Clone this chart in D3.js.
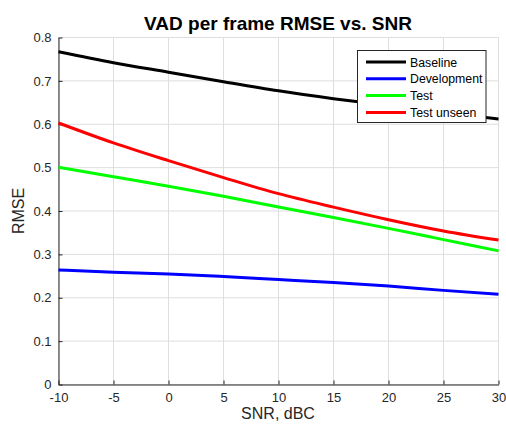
<!DOCTYPE html>
<html><head><meta charset="utf-8">
<script src="https://cdn.jsdelivr.net/npm/d3@7"></script>
<style>body{margin:0;background:#fff}svg{display:block;font-family:"Liberation Sans",Arial,sans-serif}</style>
</head><body><svg id="c" width="506" height="428"></svg>
<script>
const snr = [-10, -5, 0, 5, 10, 15, 20, 25, 30];
const baseline = [0.767, 0.742, 0.720, 0.698, 0.677, 0.659, 0.643, 0.627, 0.612];
const development = [0.264, 0.259, 0.255, 0.249, 0.242, 0.235, 0.227, 0.217, 0.208];
const test = [0.501, 0.479, 0.457, 0.434, 0.409, 0.385, 0.360, 0.334, 0.308];
const testUnseen = [0.603, 0.557, 0.516, 0.477, 0.440, 0.409, 0.380, 0.354, 0.333];
const seriesNames = ["Baseline", "Development", "Test", "Test unseen"];
const seriesColors = ["#000000", "#0000ff", "#00ff00", "#ff0000"];
const xTicks = [-10, -5, 0, 5, 10, 15, 20, 25, 30];
const yTicks = [0, 0.1, 0.2, 0.3, 0.4, 0.5, 0.6, 0.7, 0.8];

const seriesVals = [baseline, development, test, testUnseen];
const svg = d3.select("#c");
const L = 58.5, R = 498.5, T = 37.5, B = 384.5;
const x = d3.scaleLinear().domain([-10, 30]).range([L, R]);
const y = d3.scaleLinear().domain([0, 0.8]).range([B, T]);
const axisCol = "#262626";

// grid
svg.append("g").selectAll("line").data(xTicks).join("line")
  .attr("x1", d => x(d)).attr("x2", d => x(d)).attr("y1", T).attr("y2", B)
  .attr("stroke", "#dedede").attr("stroke-width", 1);
svg.append("g").selectAll("line").data(yTicks).join("line")
  .attr("y1", d => y(d)).attr("y2", d => y(d)).attr("x1", L).attr("x2", R)
  .attr("stroke", "#dedede").attr("stroke-width", 1);

// axes
const xAxis = d3.axisBottom(x).tickValues(xTicks).tickSizeInner(-4).tickSizeOuter(0).tickPadding(8)
  .tickFormat(d => String(d));
const gx = svg.append("g").attr("transform", `translate(0,${B})`).call(xAxis);
const yAxis = d3.axisLeft(y).tickValues(yTicks).tickSizeInner(-4).tickSizeOuter(0).tickPadding(7)
  .tickFormat(d => d === 0 ? "0" : d.toFixed(1));
const gy = svg.append("g").attr("transform", `translate(${L},0)`).call(yAxis);
[gx, gy].forEach(g => {
  g.select(".domain").attr("stroke", axisCol);
  g.selectAll(".tick line").attr("stroke", axisCol);
  g.selectAll(".tick text").attr("fill", axisCol).style("font-size", "13px").style("font-family", "'Liberation Sans', Arial, sans-serif");
});

// lines
const line = d3.line().x((d, i) => x(snr[i])).y(d => y(d)).curve(d3.curveMonotoneX);
svg.append("g").selectAll("path").data(seriesVals).join("path")
  .attr("d", d => line(d)).attr("fill", "none")
  .attr("stroke", (d, i) => seriesColors[i]).attr("stroke-width", 3)
  .attr("stroke-linejoin", "round");

// title and labels
svg.append("text").attr("x", 278).attr("y", 30).attr("text-anchor", "middle")
  .style("font-size", "19px").style("font-weight", "bold").attr("fill", "#000").text("VAD per frame RMSE vs. SNR");
svg.append("text").attr("x", 278).attr("y", 419).attr("text-anchor", "middle")
  .style("font-size", "16px").attr("fill", axisCol).text("SNR, dBC");
svg.append("text").attr("transform", "translate(24,211) rotate(-90)").attr("text-anchor", "middle")
  .style("font-size", "16px").attr("fill", axisCol).text("RMSE");

// legend
const lg = svg.append("g");
lg.append("rect").attr("x", 357.5).attr("y", 50.5).attr("width", 128.5).attr("height", 72)
  .attr("fill", "#fff").attr("stroke", axisCol).attr("stroke-width", 1);
seriesNames.forEach((n, i) => {
  const yy = 62 + i * 16.8;
  lg.append("line").attr("x1", 366).attr("x2", 406).attr("y1", yy).attr("y2", yy)
    .attr("stroke", seriesColors[i]).attr("stroke-width", 3);
  lg.append("text").attr("x", 410).attr("y", yy + 4.5).style("font-size", "12.3px").attr("fill", "#000").text(n);
});
</script></body></html>
